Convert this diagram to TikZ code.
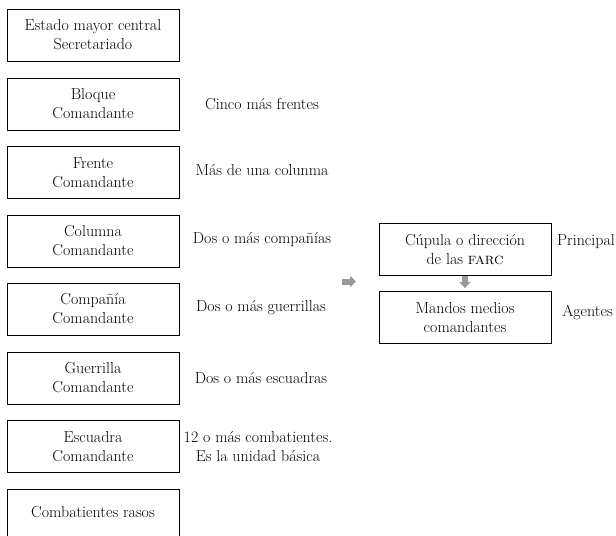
\documentclass[tikz,border=0pt]{standalone}
\usetikzlibrary{arrows.meta}
\definecolor{arrowgray}{HTML}{9A9A9A}
\begin{document}
\begin{tikzpicture}[x=1bp,y=-1bp,
  box/.style={draw=black, line width=0.8bp, minimum width=172bp, minimum height=52bp, inner sep=0pt, align=center, font=\fontsize{16}{19}\selectfont},
  lbl/.style={align=center, inner sep=0pt, font=\fontsize{16}{19}\selectfont},
  blockarrow/.style={draw=arrowgray, line width=6bp, -{Triangle[width=11bp,length=6bp]}}
]
\useasboundingbox (0,0) rectangle (616,536);
\clip (0,0) rectangle (616,536);
\node[box] (b1) at (93,35) {Estado mayor central\\Secretariado};
\node[box] (b2) at (93,104) {Bloque\\Comandante};
\node[box] (b3) at (93,172.5) {Frente\\Comandante};
\node[box] (b4) at (93,241) {Columna\\Comandante};
\node[box] (b5) at (93,309) {Compañía\\Comandante};
\node[box] (b6) at (93,378) {Guerrilla\\Comandante};
\node[box] (b7) at (93,446.5) {Escuadra\\Comandante};
\node[box, minimum height=64bp, anchor=north] (b8) at (93,489) {};
\node[lbl] (t8) at (93,512) {Combatientes rasos};

\node[lbl] (l2) at (262,104) {Cinco más frentes};
\node[lbl] (l3) at (262,170) {Más de una colunma};
\node[lbl] (l4) at (262,240) {Dos o más compañías};
\node[lbl] (l5) at (261,308) {Dos o más guerrillas};
\node[lbl] (l6) at (261,378) {Dos o más escuadras};
\node[lbl] (l7) at (258,446.5) {12 o más combatientes.\\Es la unidad básica};

\node[box] (cup) at (465,249.5) {Cúpula o dirección\\de las \textsc{farc}};
\node[box] (man) at (465,317.5) {Mandos medios\\comandantes};
\node[lbl] (pri) at (586,242) {Principal};
\node[lbl] (age) at (587.5,312) {Agentes};

\coordinate (ra1) at (342,281.5);
\coordinate (ra2) at (356,281.5);
\draw[blockarrow] (ra1) -- (ra2);
\draw[blockarrow, shorten >=3bp] (cup.south) -- (man.north);
\end{tikzpicture}
\end{document}
